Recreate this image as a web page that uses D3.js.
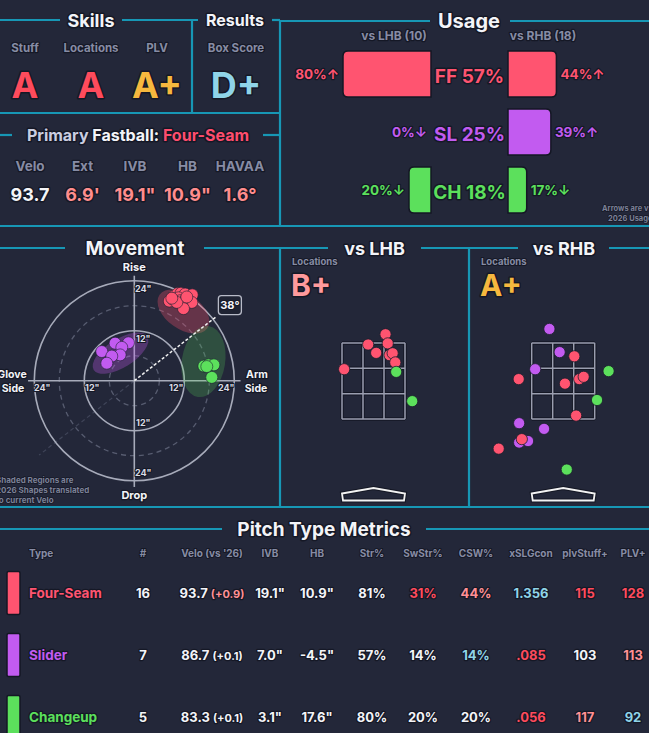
<!DOCTYPE html>
<html><head><meta charset="utf-8">
<script src="https://cdn.jsdelivr.net/npm/d3@7"></script>
<style>
html,body{margin:0;padding:0;background:#232739;overflow:hidden}
svg{display:block}
text{font-family:Inter,"DejaVu Sans",sans-serif;font-weight:700;paint-order:stroke;stroke:#151826;stroke-linejoin:round;stroke-width:2.5px}
</style></head><body>
<svg id="c" width="649" height="733"></svg>
<script>
// ---------------- DATA ----------------
const skillLabels = ["Stuff", "Locations", "PLV"];
const skillGrades = ["A", "A", "A+"];
const resultLabels = ["Box Score"];
const resultGrades = ["D+"];

const fbName = "Four-Seam";
const fbLabels = ["Velo", "Ext", "IVB", "HB", "HAVAA"];
const fbValues = ["93.7", "6.9'", "19.1\"", "10.9\"", "1.6°"];

const usagePitches = ["FF", "SL", "CH"];
const usageTotal = [57, 25, 18];
const usageLHB = [80, 0, 20];
const usageRHB = [44, 39, 17];
const arrowLHB = ["↑", "↓", "↓"];
const arrowRHB = ["↑", "↑", "↓"];
const lhbCount = 10, rhbCount = 18;

// movement (inches): HB (arm side +), IVB
const mvFF_hb  = [8.4, 9.6, 10.4, 11.2, 12.2, 13.9, 9.2, 10.6, 11.0, 12.4, 13.8, 11.4, 11.8, 10.2, 9.0, 12.6];
const mvFF_ivb = [19.1, 20.4, 20.9, 21.0, 20.8, 20.6, 19.6, 19.9, 19.2, 19.6, 18.8, 18.3, 17.3, 18.8, 19.8, 20.1];
const mvSL_hb  = [-7.8, -4.6, -1.4, -3.0, -3.4, -5.4, -6.6];
const mvSL_ivb = [7.0, 9.0, 9.1, 8.0, 6.2, 5.9, 4.2];
const mvCH_hb  = [16.7, 17.8, 19.1, 18.6, 17.4];
const mvCH_ivb = [3.5, 3.8, 3.8, 0.8, 3.4];
// 2026 shape regions
const shapeHB  = [11.8, -3.3, 16.6];
const shapeIVB = [16.6, 6.6, 4.6];
const shapeA   = [7.0, 7.6, 5.2];
const shapeB   = [4.2, 3.4, 8.6];
const shapeRot = [35, -32, 9];
const armAngle = [38];
const mvTicks = [12, 24];

// locations (feet)
const lhbType = ["FF","FF","FF","FF","FF","FF","FF","FF","CH","CH"];
const lhbX = [0.27, -0.12, 0.32, 0.06, 0.36, 0.43, 0.49, -0.66, 0.51, 0.87];
const lhbZ = [3.73, 3.46, 3.49, 3.24, 3.18, 3.23, 2.99, 2.81, 2.74, 1.97];
const rhbType = ["SL","SL","SL","SL","SL","SL","SL","FF","FF","FF","FF","FF","FF","FF","FF","CH","CH","CH"];
const rhbX = [-0.31, -0.08, -0.63, -0.99, -0.43, -0.99, -0.79, 0.25, -1.00, 0.04, 0.36, 0.46, 0.29, -0.93, -1.45, 1.02, 0.76, 0.08];
const rhbZ = [3.87, 3.26, 2.81, 1.39, 1.24, 0.88, 0.92, 3.15, 2.55, 2.43, 2.55, 2.61, 1.59, 0.97, 0.72, 2.76, 2.00, 0.17];
const locGrades = ["B+", "A+"];

// table
const tHeaders = ["Type", "#", "Velo (vs '26)", "IVB", "HB", "Str%", "SwStr%", "CSW%", "xSLGcon", "plvStuff+", "PLV+"];
const tTypes = ["Four-Seam", "Slider", "Changeup"];
const tCount = [16, 7, 5];
const tVelo = ["93.7", "86.7", "83.3"];
const tVeloDiff = ["+0.9", "+0.1", "+0.1"];
const tIVB = ["19.1\"", "7.0\"", "3.1\""];
const tHB = ["10.9\"", "-4.5\"", "17.6\""];
const tStr = ["81%", "57%", "80%"];
const tSwStr = ["31%", "14%", "20%"];
const tCSW = ["44%", "14%", "20%"];
const tXSLG = ["1.356", ".085", ".056"];
const tStuff = ["115", "103", "117"];
const tPLV = ["128", "113", "92"];

// ---------------- STYLE ----------------
const LINE = "#1797b5", GRAY = "#878ca4", WHITE = "#f3f4f8";
const PC = {FF: "#ff5470", SL: "#c25bf0", CH: "#5ce05c"};
const typeKey = ["FF", "SL", "CH"];
const RED = "#ff4b5c", PINK = "#ff9094", GOLD = "#f6b83e", BLUE = "#8fd4e8";
const gradeColor = g => ({"A": RED, "A+": GOLD, "D+": BLUE, "B+": "#ff9a9c"}[g] || WHITE);

const svg = d3.select("#c");
svg.append("rect").attr("width", 649).attr("height", 733).attr("fill", "#232739");

// ---------------- FRAME ----------------
const segs = [
  [0,20,60,20],[122,20,198,20],[272,20,280,20],
  [192,20,192,113],[280,20,280,226],[0,113,280,113],
  [0,135,12,135],[263,135,280,135],
  [280,21,430,21],[510,21,649,21],
  [0,226,649,226],
  [0,248,65,248],[204,248,328,248],[421,248,518,248],[609,248,649,248],
  [280,248,280,507],[469,248,469,507],[0,507,649,507],
  [0,529,222,529],[426,529,649,529]
];
svg.append("g").selectAll("line").data(segs).join("line")
  .attr("x1", d => d[0]).attr("y1", d => d[1]).attr("x2", d => d[2]).attr("y2", d => d[3])
  .attr("stroke", LINE).attr("stroke-width", 2.2);

function txt(x, y, s, size, fill, anchor = "middle", sw = 2.5) {
  return svg.append("text").attr("x", x).attr("y", y).text(s)
    .attr("font-size", size).attr("fill", fill).attr("text-anchor", anchor)
    .style("stroke-width", sw + "px");
}
function title(x, y, s, size) { return txt(x, y, s, size, WHITE, "middle", 3); }

// ---------------- SKILLS / RESULTS ----------------
title(91, 27, "Skills", 18);
title(235, 26, "Results", 16);
const skillX = d3.scalePoint().domain(skillLabels).range([25, 157]);
skillLabels.forEach((l, i) => {
  txt(skillX(l), 52, l, 11.5, GRAY);
  txt(skillX(l), 98, skillGrades[i], 36, gradeColor(skillGrades[i]), "middle", 3);
});
resultLabels.forEach((l, i) => {
  txt(236, 52, l, 11.5, GRAY);
  txt(236, 98, resultGrades[i], 36, gradeColor(resultGrades[i]), "middle", 3);
});

// ---------------- PRIMARY FASTBALL ----------------
const pf = svg.append("text").attr("x", 138).attr("y", 141).attr("text-anchor", "middle")
  .attr("font-size", 16).style("stroke-width", "3px");
pf.append("tspan").text("Primary ").attr("fill", "#c9cde0");
pf.append("tspan").text("Fastball: ").attr("fill", WHITE);
pf.append("tspan").text(fbName).attr("fill", "#ff4d6d");
const fbX = d3.scalePoint().domain(fbLabels).range([30, 240]);
fbLabels.forEach((l, i) => {
  txt(fbX(l), 171, l, 13.5, GRAY);
  txt(fbX(l), 201, fbValues[i], 18, i === 0 ? WHITE : "#ff8d8d", "middle", 3);
});

// ---------------- USAGE ----------------
title(469, 28, "Usage", 20);
txt(394, 40, `vs LHB (${lhbCount})`, 12, GRAY);
txt(543, 40, `vs RHB (${rhbCount})`, 12, GRAY);
const uw = d3.scaleLinear().domain([0, 100]).range([0, 110]);
const uy = d3.scaleBand().domain(usagePitches).range([51, 213]).paddingInner(0.207);
const midL = 431, midR = 508;
function barPath(xEdge, y0, w, h, dir) {
  const r = Math.min(5, w / 2);
  const xo = xEdge + dir * w;
  return `M${xEdge},${y0}H${xo - dir * r}Q${xo},${y0} ${xo},${y0 + r}V${y0 + h - r}Q${xo},${y0 + h} ${xo - dir * r},${y0 + h}H${xEdge}Z`;
}
usagePitches.forEach((p, i) => {
  const y0 = uy(p), h = uy.bandwidth(), cy = y0 + h / 2, col = PC[p];
  const wl = uw(usageLHB[i]), wr = uw(usageRHB[i]);
  if (wl > 0) svg.append("path").attr("d", barPath(midL, y0, wl, h, -1)).attr("fill", col).attr("stroke", "#141724").attr("stroke-width", 1.5);
  if (wr > 0) svg.append("path").attr("d", barPath(midR, y0, wr, h, 1)).attr("fill", col).attr("stroke", "#141724").attr("stroke-width", 1.5);
  txt(midL - wl - 4, cy + 5, `${usageLHB[i]}%${arrowLHB[i]}`, 13.5, col, "end");
  txt(midR + wr + 4, cy + 5, `${usageRHB[i]}%${arrowRHB[i]}`, 13.5, col, "start");
  txt((midL + midR) / 2, cy + 9, `${p} ${usageTotal[i]}%`, 19, col, "middle", 3);
});
txt(602, 211, "Arrows are vs", 7.5, "#7c8197", "start", 1.5);
txt(608, 221, "2026 Usage", 7.5, "#7c8197", "start", 1.5);

// ---------------- MOVEMENT ----------------
title(135, 255, "Movement", 19);
const mcx = 134.3, mcy = 380.7;
const mr = d3.scaleLinear().domain([0, 24]).range([0, 100]);
const mx = v => mcx + mr(v), my = v => mcy - mr(v);
const mg = svg.append("g");
const aa = armAngle[0] * Math.PI / 180;
mg.append("line").attr("x1", mcx).attr("y1", mcy)
  .attr("x2", mcx - mr(29) * Math.cos(aa)).attr("y2", mcy + mr(29) * Math.sin(aa))
  .attr("stroke", "#3f4458").attr("stroke-width", 1.2).attr("stroke-dasharray", "4,3");
[6, 18].forEach(v => mg.append("circle").attr("cx", mcx).attr("cy", mcy).attr("r", mr(v))
  .attr("fill", "none").attr("stroke", "#575c70").attr("stroke-width", 1.3).attr("stroke-dasharray", "5,4"));
mvTicks.forEach(v => mg.append("circle").attr("cx", mcx).attr("cy", mcy).attr("r", mr(v))
  .attr("fill", "none").attr("stroke", "#a7abba").attr("stroke-width", 1.6));
mg.append("line").attr("x1", mcx).attr("x2", mcx).attr("y1", my(25.2)).attr("y2", my(-25.5))
  .attr("stroke", "#a7abba").attr("stroke-width", 1.6);
mg.append("line").attr("y1", mcy).attr("y2", mcy).attr("x1", mx(-25.5)).attr("x2", mx(25.5))
  .attr("stroke", "#a7abba").attr("stroke-width", 1.6);
typeKey.forEach((k, i) => {
  mg.append("ellipse").attr("cx", 0).attr("cy", 0).attr("rx", mr(shapeA[i])).attr("ry", mr(shapeB[i]))
    .attr("transform", `translate(${mx(shapeHB[i])},${my(shapeIVB[i])}) rotate(${shapeRot[i]})`)
    .attr("fill", PC[k]).attr("fill-opacity", k === "CH" ? 0.22 : 0.3);
});
mvTicks.forEach(v => {
  const o = 8;
  [[mcx + 9, my(v) + o], [mcx + 9, my(-v) - o], [mx(-v) + o, mcy + 7.5], [mx(v) - o, mcy + 7.5]].forEach(p => {
    txt(p[0], p[1] + 3.2, `${v}"`, 9, "#d9dbe4", "middle", 2);
  });
});
const aR = mr(25);
const ax = mcx + aR * Math.cos(aa), ay = mcy - aR * Math.sin(aa);
mg.append("line").attr("x1", mcx).attr("y1", mcy).attr("x2", ax).attr("y2", ay)
  .attr("stroke", "#f0f0f0").attr("stroke-width", 1.5).attr("stroke-dasharray", "3,2");
const mvSets = [[mvFF_hb, mvFF_ivb, "FF"], [mvSL_hb, mvSL_ivb, "SL"], [mvCH_hb, mvCH_ivb, "CH"]];
mvSets.forEach(([hb, ivb, k]) => {
  mg.append("g").selectAll("circle").data(hb.map((h, j) => [h, ivb[j]])).join("circle")
    .attr("cx", d => mx(d[0])).attr("cy", d => my(d[1])).attr("r", 6)
    .attr("fill", PC[k]).attr("stroke", "#1d2030").attr("stroke-width", 0.6);
});
mg.append("rect").attr("x", ax + 2).attr("y", ay - 21).attr("width", 23).attr("height", 19).attr("rx", 3)
  .attr("fill", "#1f2333").attr("stroke", "#b8bbc8").attr("stroke-width", 1.3);
txt(ax + 13.5, ay - 7.5, `${armAngle[0]}°`, 11, WHITE, "middle", 2);
txt(mcx, 271, "Rise", 11, WHITE);
txt(mcx, 499, "Drop", 11, WHITE);
txt(12, 378, "Glove", 10.5, WHITE);
txt(13, 392, "Side", 10.5, WHITE);
txt(257, 378, "Arm", 10.5, WHITE);
txt(256, 392, "Side", 10.5, WHITE);
txt(-4, 483, "Shaded Regions are", 8, "#7c8197", "start", 1.5);
txt(-4, 493, "2026 Shapes translated", 8, "#7c8197", "start", 1.5);
txt(-4, 503, "to current Velo", 8, "#7c8197", "start", 1.5);

// ---------------- LOCATIONS ----------------
function locPanel(titleText, left, zoneLeft, grade, types, xs, zs) {
  title((left + (left === 280 ? 469 : 649)) / 2 - (left === 280 ? 0 : -5), 255, titleText, 18);
  txt(left + 12, 265, "Locations", 9.5, GRAY, "start", 2);
  txt(left + 11, 296, grade, 30, gradeColor(grade), "start", 3);
  const x = d3.scaleLinear().domain([-0.708, 0.708]).range([zoneLeft, zoneLeft + 63]);
  const y = d3.scaleLinear().domain([1.5, 3.5]).range([419, 343]);
  const g = svg.append("g");
  const xs3 = d3.range(4).map(k => x(-0.708 + k * 1.416 / 3));
  const ys3 = d3.range(4).map(k => y(1.5 + k * 2 / 3));
  [["#141724", 3.5], ["#9a9eaf", 1.5]].forEach(([c, w]) => {
    xs3.forEach(v => g.append("line").attr("x1", v).attr("x2", v).attr("y1", y(3.5)).attr("y2", y(1.5)).attr("stroke", c).attr("stroke-width", w));
    ys3.forEach(v => g.append("line").attr("y1", v).attr("y2", v).attr("x1", x(-0.708)).attr("x2", x(0.708)).attr("stroke", c).attr("stroke-width", w));
  });
  const xl = x(-0.708), xr = x(0.708), xm = x(0);
  const plate = `M${xl},493.5L${xm},488L${xr},493.5L${xr - 1},500.5L${xl + 1},500.5Z`;
  g.append("path").attr("d", plate).attr("fill", "none").attr("stroke", "#141724").attr("stroke-width", 4);
  g.append("path").attr("d", plate).attr("fill", "none").attr("stroke", "#f2f2f2").attr("stroke-width", 1.8);
  g.append("g").selectAll("circle").data(types.map((t, j) => [t, xs[j], zs[j]])).join("circle")
    .attr("cx", d => x(d[1])).attr("cy", d => y(d[2])).attr("r", 5.6)
    .attr("fill", d => PC[d[0]]).attr("stroke", "#1b1e2c").attr("stroke-width", 0.8);
}
locPanel("vs LHB", 280, 342, locGrades[0], lhbType, lhbX, lhbZ);
locPanel("vs RHB", 469, 531.7, locGrades[1], rhbType, rhbX, rhbZ);

// ---------------- TABLE ----------------
title(324, 536, "Pitch Type Metrics", 19);
const colX = [29, 143, 212, 270, 317, 372, 423, 476, 531, 585, 633];
tHeaders.forEach((h, i) => txt(colX[i], 557, h, 10, GRAY, i === 0 ? "start" : "middle", 2));
const rowY = d3.scalePoint().domain(tTypes).range([593, 717]);
const cellColors = {
  5: [WHITE, WHITE, WHITE], 6: [RED, WHITE, WHITE], 7: [PINK, BLUE, WHITE],
  8: [BLUE, RED, RED], 9: [RED, WHITE, PINK], 10: [RED, PINK, BLUE]
};
const diffColor = [PINK, WHITE, WHITE];
tTypes.forEach((t, r) => {
  const cy = rowY(t), col = PC[typeKey[r]];
  svg.append("rect").attr("x", 7).attr("y", cy - 21.5).attr("width", 13).attr("height", 43).attr("rx", 1.5)
    .attr("fill", col).attr("stroke", "#141724").attr("stroke-width", 1.5);
  txt(29, cy + 4.8, t, 13.5, col, "start");
  txt(colX[1], cy + 4.8, tCount[r], 13, WHITE);
  const v = svg.append("text").attr("x", colX[2]).attr("y", cy + 4.8).attr("text-anchor", "middle")
    .attr("font-size", 13).attr("fill", WHITE);
  v.append("tspan").text(tVelo[r] + " ");
  v.append("tspan").text(`(${tVeloDiff[r]})`).attr("font-size", 11).attr("fill", diffColor[r]);
  [tIVB, tHB, tStr, tSwStr, tCSW, tXSLG, tStuff, tPLV].forEach((arr, k) => {
    const ci = k + 3;
    const c = cellColors[ci] ? cellColors[ci][r] : WHITE;
    txt(colX[ci], cy + 4.8, arr[r], 13, c);
  });
});
</script>
</body></html>
